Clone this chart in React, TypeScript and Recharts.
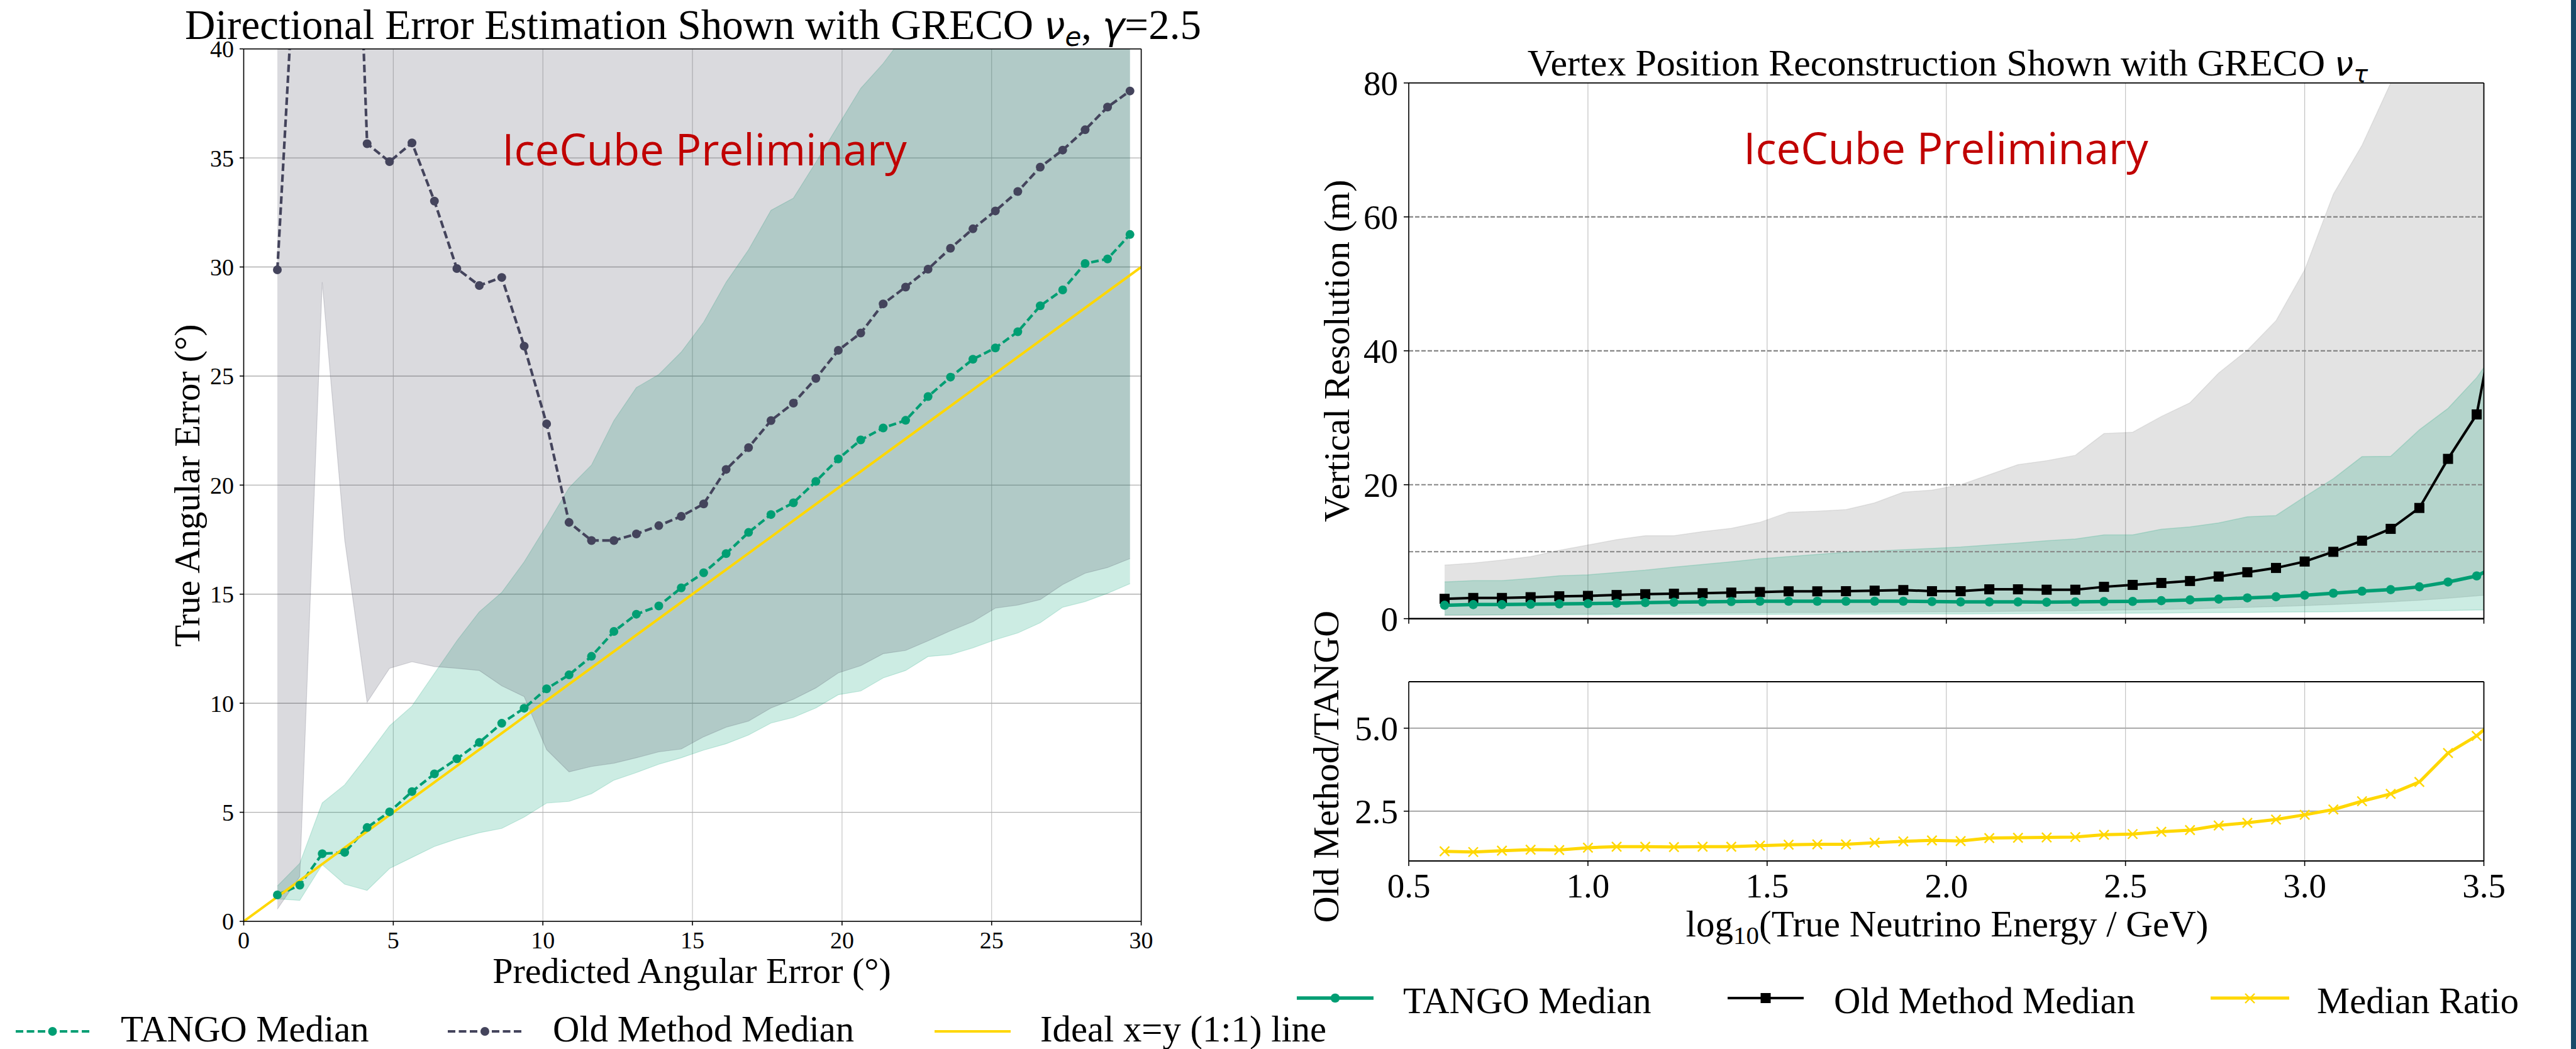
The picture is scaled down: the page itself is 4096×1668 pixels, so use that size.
import {
  ComposedChart, Area, Line, XAxis, YAxis, CartesianGrid, ReferenceLine,
} from 'recharts'

const SERIF = '"Liberation Serif", "Times New Roman", serif'
const SANS = '"Open Sans", "Noto Sans", sans-serif'
const MATH = '"DejaVu Sans", sans-serif'

const TANGO = '#009e73'
const OLD = '#44445c'
const GOLD = '#ffd700'
const RED = '#c00000'

// left panel: GRECO nu_e, binned by predicted angular error (deg)
const predErr = [
  1.125, 1.875, 2.625, 3.375, 4.125, 4.875, 5.625, 6.375, 7.125, 7.875,
  8.625, 9.375, 10.125, 10.875, 11.625, 12.375, 13.125, 13.875, 14.625, 15.375,
  16.125, 16.875, 17.625, 18.375, 19.125, 19.875, 20.625, 21.375, 22.125, 22.875,
  23.625, 24.375, 25.125, 25.875, 26.625, 27.375, 28.125, 28.875, 29.625,
]
const tangoMed = [
  1.21, 1.66, 3.1, 3.16, 4.3, 5.02, 5.95, 6.76, 7.45, 8.2,
  9.08, 9.77, 10.66, 11.3, 12.15, 13.29, 14.08, 14.46, 15.29, 15.98,
  16.86, 17.83, 18.65, 19.19, 20.17, 21.2, 22.07, 22.62, 22.97, 24.06,
  24.95, 25.77, 26.29, 27.03, 28.22, 28.95, 30.16, 30.37, 31.49,
]
const tangoLo = [
  1.03, 0.96, 2.6, 1.7, 1.42, 2.42, 2.93, 3.43, 3.78, 4.06,
  4.26, 4.78, 5.42, 5.5, 5.85, 6.47, 6.82, 7.2, 7.5, 7.85,
  8.14, 8.54, 9.09, 9.35, 9.78, 10.39, 10.56, 11.16, 11.5, 12.14,
  12.23, 12.54, 12.91, 13.22, 13.69, 14.4, 14.66, 15.04, 15.48,
]
const tangoHi = [
  1.62, 2.66, 5.43, 6.26, 7.58, 8.96, 9.87, 11.37, 12.86, 14.19,
  15.08, 16.48, 18.15, 19.88, 20.92, 22.96, 24.47, 25.07, 26.1, 27.47,
  29.3, 30.79, 32.6, 33.16, 34.8, 36.5, 38.19, 39.33, 40.7, 42,
  43.2, 44.5, 45.6, 46.8, 48, 49, 50, 51, 52,
]
const oldMed = [
  29.87, 48.4, 57, 64, 35.65, 34.83, 35.69, 33.02, 29.93, 29.15,
  29.52, 26.37, 22.81, 18.29, 17.46, 17.46, 17.76, 18.14, 18.57, 19.14,
  20.72, 21.72, 22.96, 23.76, 24.89, 26.18, 26.97, 28.31, 29.08, 29.9,
  30.86, 31.75, 32.57, 33.46, 34.58, 35.36, 36.29, 37.33, 38.07,
]
const oldLo = [
  0.56, 2.05, 29.3, 17.5, 10.04, 11.6, 11.9, 11.68, 11.6, 11.5,
  10.8, 10.3, 7.87, 6.85, 7.1, 7.25, 7.5, 7.77, 7.9, 8.46,
  8.9, 9.18, 9.78, 10.18, 10.7, 11.39, 11.72, 12.27, 12.42, 12.86,
  13.32, 13.74, 14.36, 14.5, 14.75, 15.44, 15.96, 16.22, 16.63,
]
const oldHi = [
  70, 75, 80, 80, 78, 76, 75, 74, 73, 72,
  71, 70, 69, 68, 67, 66, 65, 64, 63, 62,
  61, 60, 60, 60, 60, 60, 60, 60, 60, 60,
  60, 60, 60, 60, 60, 60, 60, 60, 60,
]
const idealX = [0, 30]
const angXTicks = [0, 5, 10, 15, 20, 25, 30]
const angYTicks = [0, 5, 10, 15, 20, 25, 30, 35, 40]

// right panels: GRECO nu_tau, log10(E/GeV)
const logE = [
  0.6, 0.68, 0.76, 0.84, 0.92, 1.0, 1.08, 1.16, 1.24, 1.32,
  1.4, 1.48, 1.56, 1.64, 1.72, 1.8, 1.88, 1.96, 2.04, 2.12,
  2.2, 2.28, 2.36, 2.44, 2.52, 2.6, 2.68, 2.76, 2.84, 2.92,
  3.0, 3.08, 3.16, 3.24, 3.32, 3.4, 3.48, 3.56,
]
const vertTango = [
  2.0, 2.1, 2.1, 2.15, 2.2, 2.25, 2.3, 2.4, 2.45, 2.5,
  2.55, 2.6, 2.6, 2.6, 2.6, 2.6, 2.6, 2.55, 2.5, 2.5,
  2.5, 2.45, 2.5, 2.55, 2.58, 2.68, 2.8, 2.92, 3.1, 3.27,
  3.5, 3.8, 4.1, 4.33, 4.75, 5.47, 6.38, 8.5,
]
const vertTangoLo = [
  0.55, 0.55, 0.56, 0.57, 0.58, 0.59, 0.6, 0.6, 0.61, 0.62,
  0.63, 0.64, 0.65, 0.66, 0.67, 0.68, 0.69, 0.7, 0.71, 0.72,
  0.74, 0.76, 0.78, 0.8, 0.82, 0.85, 0.88, 0.91, 0.94, 0.97,
  1.0, 1.04, 1.08, 1.12, 1.17, 1.22, 1.28, 1.35,
]
const vertTangoHi = [
  5.48, 5.67, 5.67, 6.0, 6.4, 6.55, 6.9, 7.24, 7.7, 8.1,
  8.5, 8.95, 9.26, 9.6, 9.9, 10.1, 10.3, 10.5, 10.7, 11.0,
  11.3, 11.65, 11.9, 12.5, 12.5, 13.35, 13.7, 14.3, 15.2, 15.4,
  18.2, 20.9, 24.2, 24.25, 28.2, 31.4, 36, 42,
]
const vertOld = [
  2.96, 3.09, 3.09, 3.2, 3.34, 3.4, 3.53, 3.65, 3.72, 3.8,
  3.89, 3.97, 4.08, 4.08, 4.1, 4.18, 4.27, 4.1, 4.1, 4.38,
  4.38, 4.32, 4.32, 4.75, 5.04, 5.33, 5.62, 6.29, 6.93, 7.57,
  8.53, 9.98, 11.64, 13.41, 16.53, 23.86, 30.5, 53,
]
const vertOldLo = [
  0.45, 0.5, 0.55, 0.6, 0.65, 0.7, 0.72, 0.76, 0.8, 0.84,
  0.86, 0.88, 0.9, 0.92, 0.94, 0.96, 0.98, 1.0, 1.03, 1.06,
  1.1, 1.14, 1.18, 1.24, 1.3, 1.38, 1.46, 1.56, 1.68, 1.8,
  1.95, 2.1, 2.3, 2.5, 2.75, 3.05, 3.4, 3.8,
]
const vertOldHi = [
  8.0, 8.3, 8.76, 9.26, 10.2, 11.0, 11.8, 12.4, 12.4, 13.0,
  13.5, 14.4, 15.9, 16.06, 16.3, 17.3, 18.9, 19.2, 20.0, 21.5,
  23.0, 23.6, 24.4, 27.65, 27.84, 30.2, 32.25, 36.7, 40.1, 44.5,
  52.1, 63.4, 70.7, 80, 90, 100, 110, 120,
]
const medRatio = [
  1.29, 1.27, 1.31, 1.34, 1.33, 1.4, 1.43, 1.43, 1.42, 1.43,
  1.43, 1.46, 1.49, 1.5, 1.5, 1.55, 1.59, 1.62, 1.6, 1.69,
  1.7, 1.71, 1.72, 1.79, 1.81, 1.88, 1.93, 2.07, 2.15, 2.25,
  2.39, 2.55, 2.8, 3.02, 3.38, 4.25, 4.77, 5.5,
]
const eTicks = [0.5, 1.0, 1.5, 2.0, 2.5, 3.0, 3.5]
const vertTicks = [0, 20, 40, 60, 80]
const vertDashed = [10, 20, 40, 60]
const ratioTicks = [2.5, 5.0]

const angData = predErr.map((x, i) => ({
  x,
  tango: tangoMed[i],
  old: oldMed[i],
  tangoBand: [tangoLo[i], tangoHi[i]],
  oldBand: [oldLo[i], oldHi[i]],
}))
const idealData = idealX.map((v) => ({ x: v, ideal: v }))
const vertData = logE.map((x, i) => ({
  x,
  tango: vertTango[i],
  old: vertOld[i],
  tangoBand: [vertTangoLo[i], vertTangoHi[i]],
  oldBand: [vertOldLo[i], vertOldHi[i]],
}))
const ratioData = logE.map((x, i) => ({ x, ratio: medRatio[i] }))

const tickL = { fontSize: 38, fill: '#000', fontFamily: SERIF }
const tickR = { fontSize: 55, fill: '#000', fontFamily: SERIF }
const axisLn = { stroke: '#000', strokeWidth: 1.6 }
const DASH = '12 5.5'
const SQ = 16

function squareDot(p: any) {
  if (p.cx == null || p.cy == null) return <g key={`s${p.index}`} />
  return <rect key={`s${p.index}`} x={p.cx - SQ / 2} y={p.cy - SQ / 2} width={SQ} height={SQ} fill="#000" />
}

function crossDot(p: any) {
  if (p.cx == null || p.cy == null) return <g key={`c${p.index}`} />
  const s = 7.5
  return (
    <path
      key={`c${p.index}`}
      d={`M${p.cx - s},${p.cy - s}L${p.cx + s},${p.cy + s}M${p.cx - s},${p.cy + s}L${p.cx + s},${p.cy - s}`}
      stroke={GOLD}
      strokeWidth={2.4}
      fill="none"
    />
  )
}

function AngularPanel() {
  return (
    <ComposedChart width={1900} height={1560} data={angData} margin={{ top: 77.7, right: 85.4, bottom: 0, left: 0 }}>
      <CartesianGrid horizontal={false} stroke="#c0c0c0" strokeWidth={1.1} />
      <CartesianGrid vertical={false} stroke="#b0b0b0" strokeWidth={1.4} />
      <XAxis
        type="number" dataKey="x" domain={[0, 30]} ticks={angXTicks} allowDataOverflow
        height={95} tickSize={6.5} tickMargin={9.5} tick={tickL} axisLine={axisLn} tickLine={axisLn}
      />
      <YAxis
        type="number" domain={[0, 40]} ticks={angYTicks} allowDataOverflow
        width={387.5} tickSize={6.5} tickMargin={9} tick={tickL} axisLine={axisLn} tickLine={axisLn}
      />
      <Area dataKey="tangoBand" type="linear" fill={TANGO} fillOpacity={0.2} stroke={TANGO} strokeOpacity={0.2} strokeWidth={1.2} isAnimationActive={false} />
      <Area dataKey="oldBand" type="linear" fill={OLD} fillOpacity={0.2} stroke={OLD} strokeOpacity={0.2} strokeWidth={1.2} isAnimationActive={false} />
      <Line dataKey="old" type="linear" stroke={OLD} strokeWidth={4.2} strokeDasharray={DASH} dot={{ r: 7, fill: OLD, stroke: 'none' }} isAnimationActive={false} />
      <Line dataKey="tango" type="linear" stroke={TANGO} strokeWidth={4.2} strokeDasharray={DASH} dot={{ r: 7, fill: TANGO, stroke: 'none' }} isAnimationActive={false} />
      <Line data={idealData} dataKey="ideal" type="linear" stroke={GOLD} strokeWidth={4} dot={false} isAnimationActive={false} />
      <ReferenceLine y={40} stroke="#000" strokeWidth={1.6} />
      <ReferenceLine x={30} stroke="#000" strokeWidth={1.6} />
    </ComposedChart>
  )
}

function VertexPanel() {
  return (
    <ComposedChart width={1900} height={1040} data={vertData} margin={{ top: 131.9, right: 50.5, bottom: 0, left: 0 }}>
      <CartesianGrid horizontal={false} stroke="#c2c2c2" strokeWidth={1.2} />
      <XAxis
        type="number" dataKey="x" domain={[0.5, 3.5]} ticks={eTicks} allowDataOverflow
        height={56.3} tickSize={8} tickFormatter={() => ''} tick={tickR}
        axisLine={{ stroke: '#000', strokeWidth: 2.6 }} tickLine={{ stroke: '#000', strokeWidth: 1.6 }}
      />
      <YAxis
        type="number" domain={[0, 80]} ticks={vertTicks} allowDataOverflow
        width={140} tickSize={8} tickMargin={9} tick={tickR} axisLine={axisLn} tickLine={axisLn}
      />
      {vertDashed.map((v) => (
        <ReferenceLine key={v} y={v} stroke="#858585" strokeWidth={2.2} strokeDasharray="7 3" />
      ))}
      <Area dataKey="oldBand" type="linear" fill="#000" fillOpacity={0.11} stroke="#000" strokeOpacity={0.08} strokeWidth={1.5} isAnimationActive={false} />
      <Area dataKey="tangoBand" type="linear" fill={TANGO} fillOpacity={0.2} stroke={TANGO} strokeOpacity={0.2} strokeWidth={1.5} isAnimationActive={false} />
      <Line dataKey="old" type="linear" stroke="#000" strokeWidth={4} dot={squareDot} isAnimationActive={false} />
      <Line dataKey="tango" type="linear" stroke={TANGO} strokeWidth={5.5} dot={{ r: 7.3, fill: TANGO, stroke: 'none' }} isAnimationActive={false} />
      <ReferenceLine y={80} stroke="#000" strokeWidth={1.8} />
      <ReferenceLine x={3.5} stroke="#000" strokeWidth={1.8} />
    </ComposedChart>
  )
}

function RatioPanel() {
  return (
    <ComposedChart width={1900} height={480} data={ratioData} margin={{ top: 84, right: 50.5, bottom: 0, left: 0 }}>
      <CartesianGrid horizontal={false} stroke="#c2c2c2" strokeWidth={1.2} />
      <CartesianGrid vertical={false} stroke="#b0b0b0" strokeWidth={2.2} />
      <XAxis
        type="number" dataKey="x" domain={[0.5, 3.5]} ticks={eTicks} allowDataOverflow
        height={111} tickSize={8} tickMargin={11} tick={tickR} tickFormatter={(v: number) => v.toFixed(1)}
        axisLine={{ stroke: '#000', strokeWidth: 2.2 }} tickLine={{ stroke: '#000', strokeWidth: 1.6 }}
      />
      <YAxis
        type="number" domain={[1.0, 6.4]} ticks={ratioTicks} allowDataOverflow
        width={140} tickSize={8} tickMargin={9} tick={tickR} tickFormatter={(v: number) => v.toFixed(1)}
        axisLine={axisLn} tickLine={axisLn}
      />
      <Line dataKey="ratio" type="linear" stroke={GOLD} strokeWidth={5} dot={crossDot} isAnimationActive={false} />
      <ReferenceLine y={6.4} stroke="#000" strokeWidth={2.2} />
      <ReferenceLine x={3.5} stroke="#000" strokeWidth={1.8} />
    </ComposedChart>
  )
}

function Overlay() {
  const lg = { fontSize: 58.7, fontFamily: SERIF, fill: '#000' }
  return (
    <svg width={4096} height={1668} style={{ position: 'absolute', left: 0, top: 0, pointerEvents: 'none' }}>
      {/* titles */}
      <text x={1102} y={62} textAnchor="middle" fontSize={67} fontFamily={SERIF}>
        {'Directional Error Estimation Shown with GRECO '}
        <tspan fontFamily={MATH} fontStyle="italic" fontSize={60}>ν</tspan>
        <tspan fontFamily={MATH} fontStyle="italic" fontSize={42} dy={11}>e</tspan>
        <tspan dy={-11}>{', '}</tspan>
        <tspan fontFamily={MATH} fontStyle="italic" fontSize={60}>γ</tspan>
        <tspan>=2.5</tspan>
      </text>
      <text x={3097} y={120} textAnchor="middle" fontSize={60} fontFamily={SERIF}>
        {'Vertex Position Reconstruction Shown with GRECO '}
        <tspan fontFamily={MATH} fontStyle="italic" fontSize={54}>ν</tspan>
        <tspan fontFamily={MATH} fontStyle="italic" fontSize={38} dy={10}>τ</tspan>
      </text>

      <text x={1120} y={263} textAnchor="middle" fontSize={69} fontFamily={SANS} fill={RED}>IceCube Preliminary</text>
      <text x={3094} y={261} textAnchor="middle" fontSize={69} fontFamily={SANS} fill={RED}>IceCube Preliminary</text>

      {/* axis labels */}
      <text x={1100} y={1563} textAnchor="middle" fontSize={58} fontFamily={SERIF}>Predicted Angular Error (°)</text>
      <text x={297} y={772} textAnchor="middle" dominantBaseline="central" fontSize={57} fontFamily={SERIF} transform="rotate(-90 297 772)">True Angular Error (°)</text>
      <text x={2125} y={558} textAnchor="middle" dominantBaseline="central" fontSize={58} fontFamily={SERIF} transform="rotate(-90 2125 558)">Vertical Resolution (m)</text>
      <text x={2108} y={1219} textAnchor="middle" dominantBaseline="central" fontSize={58} fontFamily={SERIF} transform="rotate(-90 2108 1219)">Old Method/TANGO</text>
      <text x={3096} y={1489} textAnchor="middle" fontSize={59} fontFamily={SERIF}>
        log<tspan fontSize={41} dy={12}>10</tspan><tspan dy={-12}>(True Neutrino Energy / GeV)</tspan>
      </text>

      {/* left legend */}
      <line x1={25} y1={1640} x2={142} y2={1640} stroke={TANGO} strokeWidth={4.2} strokeDasharray={DASH} />
      <circle cx={83.5} cy={1640} r={7} fill={TANGO} />
      <text x={192} y={1656} {...lg}>TANGO Median</text>
      <line x1={712} y1={1640} x2={830} y2={1640} stroke={OLD} strokeWidth={4.2} strokeDasharray={DASH} />
      <circle cx={771} cy={1640} r={7} fill={OLD} />
      <text x={879} y={1656} {...lg}>Old Method Median</text>
      <line x1={1486} y1={1640} x2={1607} y2={1640} stroke={GOLD} strokeWidth={4} />
      <text x={1654} y={1656} {...lg}>Ideal x=y (1:1) line</text>

      {/* right legend */}
      <line x1={2062} y1={1587} x2={2184} y2={1587} stroke={TANGO} strokeWidth={5.5} />
      <circle cx={2123} cy={1587} r={7.3} fill={TANGO} />
      <text x={2231} y={1611} {...lg}>TANGO Median</text>
      <line x1={2747} y1={1587} x2={2868} y2={1587} stroke="#000" strokeWidth={4} />
      <rect x={2807.5 - SQ / 2} y={1587 - SQ / 2} width={SQ} height={SQ} fill="#000" />
      <text x={2916} y={1611} {...lg}>Old Method Median</text>
      <line x1={3515} y1={1587} x2={3640} y2={1587} stroke={GOLD} strokeWidth={5} />
      <path d="M3570,1580L3585,1595M3570,1595L3585,1580" stroke={GOLD} strokeWidth={2.4} />
      <text x={3684} y={1611} {...lg}>Median Ratio</text>

      <rect x={4088} y={0} width={8} height={1668} fill="#174a69" />
    </svg>
  )
}

export default function App() {
  return (
    <div style={{ position: 'absolute', left: 0, top: 0, width: 4096, height: 1668, background: '#fff', overflow: 'hidden' }}>
      <div style={{ position: 'absolute', left: 0, top: 0 }}>
        <AngularPanel />
      </div>
      <div style={{ position: 'absolute', left: 2100, top: 0 }}>
        <VertexPanel />
      </div>
      <div style={{ position: 'absolute', left: 2100, top: 1000 }}>
        <RatioPanel />
      </div>
      <Overlay />
    </div>
  )
}
